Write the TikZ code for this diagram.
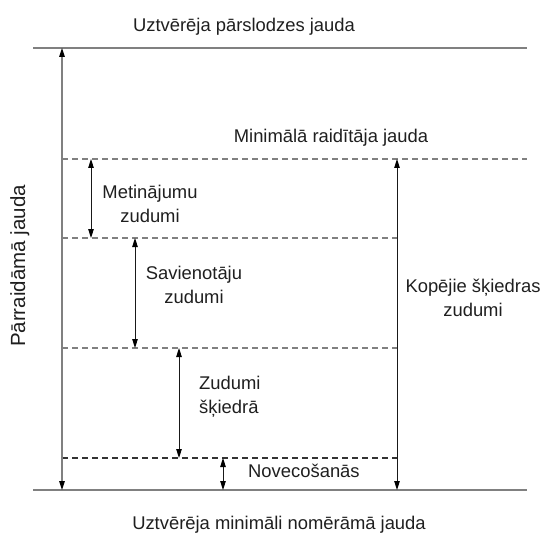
\documentclass[tikz,border=0pt]{standalone}
\usepackage{fontspec}
\setmainfont{Liberation Sans}
\usetikzlibrary{arrows.meta}

\begin{document}
\begin{tikzpicture}[x=1pt,y=-1pt]
% Diagram style
\tikzset{
    level/.style={draw=gray, line width=1.6pt},
    dashlevel/.style={draw=gray, line width=1.1pt, dash pattern=on 6pt off 4pt},
    dim/.style={draw=black!90, line width=0.9pt,
        {Triangle[length=9pt,width=5.5pt,color=black]}-{Triangle[length=9pt,width=5.5pt,color=black]}},
    lbl/.style={font=\fontsize{18.4}{24}\selectfont, text=black!88, inner sep=0pt, align=center}
}
\useasboundingbox (0,0) rectangle (544,545);
% Power levels
\coordinate (Ta) at (33,48);  \coordinate (Tb) at (527,48);
\coordinate (Ra) at (62,159); \coordinate (Rb) at (527,159);
\coordinate (Wa) at (62,238); \coordinate (Wb) at (397,238);
\coordinate (Ca) at (62,348); \coordinate (Cb) at (397,348);
\coordinate (Fa) at (62,458); \coordinate (Fb) at (397,458);
\coordinate (Ba) at (33,490); \coordinate (Bb) at (527,490);
\draw[level] (Ta) -- (Tb);
\draw[level] (Ba) -- (Bb);
\draw[dashlevel] (Ra) -- (Rb);
\draw[dashlevel] (Wa) -- (Wb);
\draw[dashlevel] (Ca) -- (Cb);
\draw[dashlevel, draw=black!80] (Fa) -- (Fb);
% Dimension arrows
\draw[dim, draw=gray, line width=1.2pt] (Ta -| Ra) -- (Ba -| Ra);
\draw[dim] (Ra) ++(29,0) coordinate (m1) -- (Wa -| m1);
\draw[dim] (Wa) ++(73,0) coordinate (s1) -- (Ca -| s1);
\draw[dim] (Ca) ++(117,0) coordinate (z1) -- (Fa -| z1);
\draw[dim] (Fa) ++(161,0) coordinate (n1) -- (Ba -| n1);
\draw[dim] (Rb -| Wb) -- (Bb -| Wb);
% Labels
\node[lbl, anchor=base] (over) at (244,32) {Uztvērēja pārslodzes jauda};
\node[lbl, anchor=base] (tx) at (331,143) {Minimālā raidītāja jauda};
\node[lbl, anchor=base] (rx) at (279,529) {Uztvērēja minimāli nomērāmā jauda};
\node[lbl, anchor=base, rotate=90, font=\fontsize{20.5}{24}\selectfont] (pw) at (25,266) {Pārraidāmā jauda};
\node[lbl] (weld) at (150,204) {Metinājumu\\zudumi};
\node[lbl] (conn) at (194,285) {Savienotāju\\zudumi};
\node[lbl, anchor=west, align=left] (fib) at (199,397) {Zudumi\\šķiedrā};
\node[lbl, anchor=base west] (age) at (248,477) {Novecošanās};
\node[lbl] (tot) at (473,298) {Kopējie šķiedras\\zudumi};
\end{tikzpicture}
\end{document}
